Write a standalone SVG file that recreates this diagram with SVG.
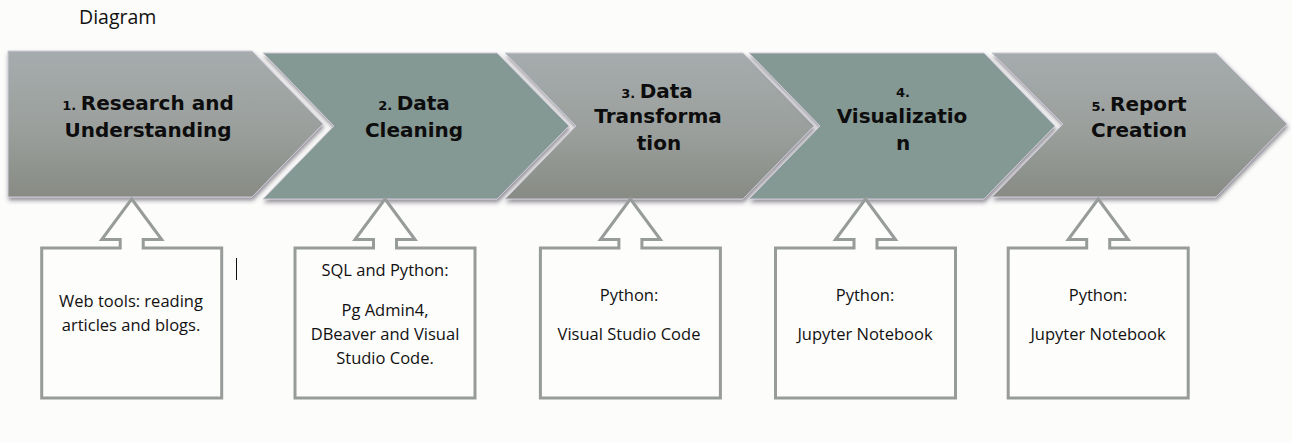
<svg xmlns="http://www.w3.org/2000/svg" width="1292" height="443" viewBox="0 0 1292 443">
<defs>
<linearGradient id="gGray" x1="0" y1="0" x2="0" y2="1">
<stop offset="0" stop-color="#a6acad"/>
<stop offset="0.55" stop-color="#9a9f9c"/>
<stop offset="1" stop-color="#888b84"/>
</linearGradient>
<filter id="sh" x="-5%" y="-10%" width="112%" height="125%">
<feDropShadow dx="1" dy="3" stdDeviation="2" flood-color="#3a3448" flood-opacity="0.55"/>
</filter>
<path id="callout" d="M0,199 L30,239.5 L11.5,239.5 L11.5,248 L90,248 L90,398 L-90,398 L-90,248 L-11.5,248 L-11.5,239.5 L-30,239.5 Z"/>
</defs>
<style>
.gray{fill:url(#gGray);stroke:#cdc9d8;stroke-width:1;filter:url(#sh);}
.teal{fill:#849894;stroke:#cdc9d8;stroke-width:1;filter:url(#sh);}
.ct{font-family:"DejaVu Sans",sans-serif;font-weight:bold;font-size:20px;fill:#0d0d0d;text-anchor:middle;}
.num{font-size:13px;}
.co{fill:#fdfdfb;stroke:#979b99;stroke-width:3;stroke-linejoin:miter;}
.bt{font-family:"Open Sans","Noto Sans",sans-serif;font-size:16.5px;fill:#111;text-anchor:middle;}
</style>
<rect width="1292" height="443" fill="#fcfcfa"/>
<text x="79" y="24" font-family="'Open Sans','Noto Sans',sans-serif" font-size="19.5" fill="#111">Diagram</text>

<g id="step1">
<polygon class="gray" points="8,51 252,51 323,124 252,197 8,197"/>
<text class="ct" x="148" y="110"><tspan class="num">1. </tspan>Research and</text>
<text class="ct" x="148" y="137">Understanding</text>
</g>
<g id="step2">
<polygon class="teal" points="263,53 497,53 569,126 497,199 263,199 334,126"/>
<text class="ct" x="414" y="110"><tspan class="num">2. </tspan>Data</text>
<text class="ct" x="414" y="137">Cleaning</text>
</g>
<g id="step3">
<polygon class="gray" points="505,53 743,53 814,126 743,199 505,199 576,126"/>
<text class="ct" x="657" y="98"><tspan class="num">3. </tspan>Data</text>
<text class="ct" x="658" y="123">Transforma</text>
<text class="ct" x="659" y="150">tion</text>
</g>
<g id="step4">
<polygon class="teal" points="749,53 984,53 1055,126 984,199 749,199 820,126"/>
<text class="ct" x="903" y="97"><tspan class="num">4.</tspan></text>
<text class="ct" x="902" y="123">Visualizatio</text>
<text class="ct" x="903" y="150">n</text>
</g>
<g id="step5">
<polygon class="gray" points="992,53 1216,53 1287,124 1216,197 992,197 1063,124"/>
<text class="ct" x="1139" y="111"><tspan class="num">5. </tspan>Report</text>
<text class="ct" x="1139" y="137">Creation</text>
</g>

<g id="connectors"></g>

<g id="tool1">
<use href="#callout" class="co" transform="translate(131.7,0)"/>
<text class="bt" x="131" y="307">Web tools: reading</text>
<text class="bt" x="131" y="331">articles and blogs.</text>
</g>
<g id="tool2">
<use href="#callout" class="co" transform="translate(385,0)"/>
<text class="bt" x="385" y="276">SQL and Python:</text>
<text class="bt" x="385" y="316">Pg Admin4,</text>
<text class="bt" x="385" y="340">DBeaver and Visual</text>
<text class="bt" x="385" y="364">Studio Code.</text>
</g>
<g id="tool3">
<use href="#callout" class="co" transform="translate(630.4,0)"/>
<text class="bt" x="629" y="301">Python:</text>
<text class="bt" x="629" y="340">Visual Studio Code</text>
</g>
<g id="tool4">
<use href="#callout" class="co" transform="translate(865.5,0)"/>
<text class="bt" x="865" y="301">Python:</text>
<text class="bt" x="865" y="340">Jupyter Notebook</text>
</g>
<g id="tool5">
<use href="#callout" class="co" transform="translate(1098.2,0)"/>
<text class="bt" x="1098" y="301">Python:</text>
<text class="bt" x="1098" y="340">Jupyter Notebook</text>
</g>
<line x1="236.5" y1="258" x2="236.5" y2="280" stroke="#111" stroke-width="1"/>
</svg>
